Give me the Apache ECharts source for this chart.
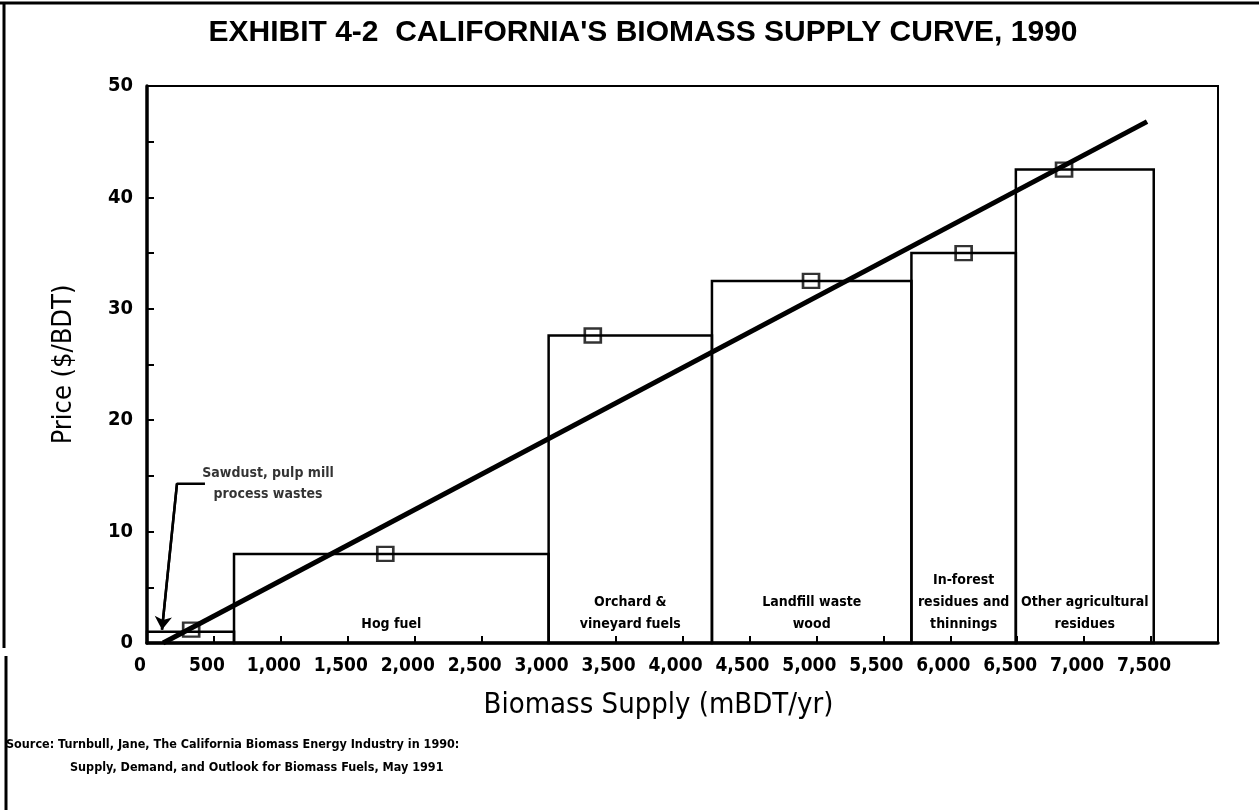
<!DOCTYPE html>
<html>
<head>
<meta charset="utf-8">
<title>California's Biomass Supply Curve, 1990</title>
<script src="https://cdn.jsdelivr.net/npm/echarts@6.0.0/dist/echarts.min.js"></script>
<style>
html, body { margin: 0; padding: 0; background: #fff; }
#main { width: 1259px; height: 810px; }
</style>
</head>
<body>
<div id="main"></div>
<script type="text/javascript">
// supply blocks: start / end (mBDT/yr) and price ($/BDT)
var blockNames = ['', 'Hog fuel', 'Orchard &\nvineyard fuels', 'Landfill waste\nwood', 'In-forest\nresidues and\nthinnings', 'Other agricultural\nresidues'];
var blockStart = [0, 650, 3000, 4220, 5710, 6490];
var blockEnd = [650, 3000, 4220, 5710, 6490, 7520];
var blockPrice = [1, 8, 27.6, 32.5, 35, 42.5];

// square markers
var markSupply = [330, 1780, 3330, 4960, 6100, 6850];
var markPrice = [1.2, 8, 27.6, 32.5, 35, 42.5];

// fitted line (two ends)
var trendSupply = [120, 7470];
var trendPrice = [0, 46.8];

// arrow pointing at the sawdust block
var arrowSupply = [433, 224, 112];
var arrowPrice = [14.3, 14.3, 1.2];

// axis tick labels
var xTickLabels = ['0', '500', '1,000', '1,500', '2,000', '2,500', '3,000', '3,500', '4,000',
	'4,500', '5,000', '5,500', '6,000', '6,500', '7,000', '7,500', ''];
var yTickLabels = ['0', '', '10', '', '20', '', '30', '', '40', '', '50'];

var narrow = "'Liberation Sans Narrow', 'DejaVu Sans Condensed', sans-serif";

var myChart = echarts.init(document.getElementById('main'));

var blockData = [];
for (var i = 0; i < blockStart.length; i++) {
	blockData.push([blockStart[i], blockEnd[i], blockPrice[i]]);
}
var markData = [];
for (var i = 0; i < markSupply.length; i++) {
	markData.push([markSupply[i], markPrice[i]]);
}
var trendData = [];
for (var i = 0; i < trendSupply.length; i++) {
	trendData.push([trendSupply[i], trendPrice[i]]);
}
var arrowData = [];
for (var i = 0; i < arrowSupply.length; i++) {
	arrowData.push([arrowSupply[i], arrowPrice[i]]);
}

option = {
	animation: false,
	backgroundColor: '#fff',
	title: {
		text: "EXHIBIT 4-2  CALIFORNIA'S BIOMASS SUPPLY CURVE, 1990",
		left: 638,
		textAlign: 'center',
		top: 13,
		textStyle: {
			color: '#000',
			fontFamily: "'Liberation Sans', Arial, sans-serif",
			fontWeight: 'bold',
			fontSize: 30
		}
	},
	grid: {
		left: 147,
		right: 41,
		top: 86,
		bottom: 167,
		show: true,
		borderColor: '#000',
		borderWidth: 2,
		backgroundColor: 'transparent'
	},
	xAxis: {
		type: 'value',
		min: 0,
		max: 8000,
		interval: 500,
		name: 'Biomass Supply (mBDT/yr)',
		nameLocation: 'middle',
		nameGap: 48,
		nameTextStyle: {
			color: '#000',
			fontFamily: narrow,
			fontSize: 29,
			padding: [0, 48, 0, 0]
		},
		axisLine: { lineStyle: { color: '#000', width: 3.5 } },
		axisTick: { inside: true, length: 7, lineStyle: { color: '#000', width: 2 } },
		axisLabel: {
			color: '#000',
			fontFamily: narrow,
			fontWeight: 'bold',
			fontSize: 19,
			margin: 14,
			padding: [0, 14, 0, 0],
			formatter: function (v) { return xTickLabels[Math.round(v / 500)]; }
		},
		splitLine: { show: false }
	},
	yAxis: {
		type: 'value',
		min: 0,
		max: 50,
		interval: 5,
		name: 'Price ($/BDT)',
		nameLocation: 'middle',
		nameGap: 70,
		nameTextStyle: {
			color: '#000',
			fontFamily: narrow,
			fontSize: 27
		},
		axisLine: { lineStyle: { color: '#000', width: 3.5 } },
		axisTick: { inside: true, length: 7, lineStyle: { color: '#000', width: 2 } },
		axisLabel: {
			color: '#000',
			fontFamily: narrow,
			fontWeight: 'bold',
			fontSize: 20,
			margin: 14,
			formatter: function (v) { return yTickLabels[Math.round(v / 5)]; }
		},
		splitLine: { show: false }
	},
	series: [
		{
			// supply blocks with their names at the bottom
			type: 'custom',
			z: 2,
			data: blockData,
			renderItem: function (params, api) {
				var p0 = api.coord([api.value(0), 0]);
				var p1 = api.coord([api.value(1), api.value(2)]);
				return {
					type: 'group',
					children: [
						{
							type: 'rect',
							shape: { x: p0[0], y: p1[1], width: p1[0] - p0[0], height: p0[1] - p1[1] },
							style: { fill: 'none', stroke: '#000', lineWidth: 2.5 }
						},
						{
							type: 'text',
							x: (p0[0] + p1[0]) / 2,
							y: p0[1] - 8,
							style: {
								text: blockNames[params.dataIndex],
								align: 'center',
								verticalAlign: 'bottom',
								fontFamily: narrow,
								fontWeight: 'bold',
								fontSize: 14,
								lineHeight: 22,
								fill: '#000'
							}
						}
					]
				};
			}
		},
		{
			// fitted supply curve
			type: 'line',
			z: 3,
			data: trendData,
			symbol: 'none',
			lineStyle: { color: '#000', width: 5 }
		},
		{
			type: 'scatter',
			z: 4,
			data: markData,
			symbol: 'rect',
			symbolSize: [16, 14],
			itemStyle: { color: 'none', borderColor: '#000', borderWidth: 2.5 }
		},
		{
			// leader line of the sawdust note
			type: 'line',
			z: 3,
			data: arrowData,
			symbol: 'none',
			lineStyle: { color: '#000', width: 2.5 }
		},
		{
			type: 'lines',
			coordinateSystem: 'cartesian2d',
			z: 3,
			symbol: ['none', 'arrow'],
			symbolSize: 13,
			lineStyle: { color: '#000', width: 2.5, opacity: 1 },
			data: [{ coords: [arrowData[1], arrowData[2]] }]
		},
		{
			type: 'scatter',
			z: 3,
			symbolSize: 0,
			data: [[904, 14.3]],
			label: {
				show: true,
				position: 'inside',
				formatter: 'Sawdust, pulp mill\nprocess wastes',
				color: '#000',
				fontFamily: narrow,
				fontWeight: 'bold',
				fontSize: 14,
				lineHeight: 21
			}
		}
	],
	graphic: [
		{ type: 'line', shape: { x1: 0, y1: 3, x2: 1259, y2: 3 }, style: { stroke: '#000', lineWidth: 3 } },
		{ type: 'line', shape: { x1: 4, y1: 3, x2: 4, y2: 648 }, style: { stroke: '#000', lineWidth: 3 } },
		{ type: 'line', shape: { x1: 6, y1: 656, x2: 6, y2: 810 }, style: { stroke: '#000', lineWidth: 3 } },
		{
			type: 'text', left: 6, top: 738,
			style: {
				text: 'Source: Turnbull, Jane, The California Biomass Energy Industry in 1990:',
				fontFamily: narrow, fontWeight: 'bold', fontSize: 12.5, fill: '#000'
			}
		},
		{
			type: 'text', left: 70, top: 761,
			style: {
				text: 'Supply, Demand, and Outlook for Biomass Fuels, May 1991',
				fontFamily: narrow, fontWeight: 'bold', fontSize: 12.5, fill: '#000'
			}
		}
	]
};

myChart.setOption(option);
</script>
</body>
</html>
